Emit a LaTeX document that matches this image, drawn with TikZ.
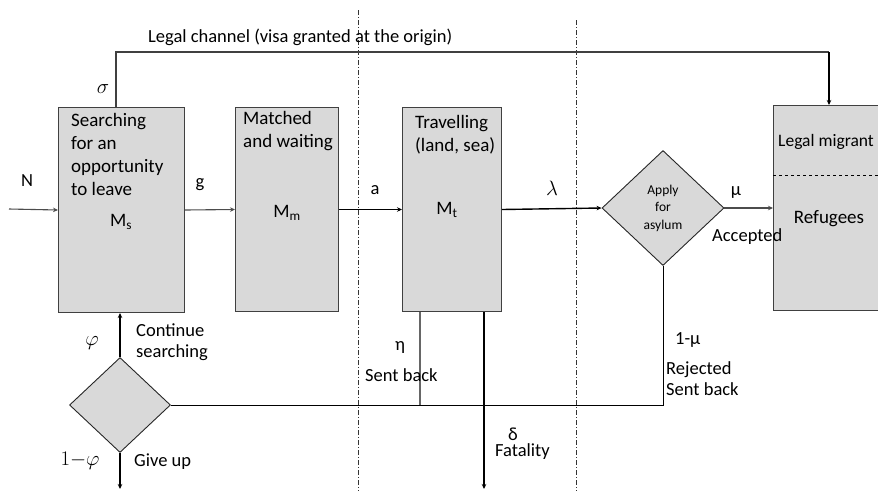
\documentclass[tikz,border=0pt]{standalone}
\usepackage{fontspec}
\setmainfont{Carlito}
\usetikzlibrary{shapes.geometric,arrows.meta,positioning}
\tikzset{>={Stealth[length=5pt,width=4.5pt]}}

\begin{document}
\begin{tikzpicture}[x=1pt,y=-1pt,
                          stock/.style={draw=black!75, line width=1pt, fill=black!15, inner sep=0pt, anchor=north west},
                          choice/.style={diamond, draw=black!85, line width=0.9pt, fill=black!15, inner sep=0pt},
                          flow/.style={black!70, line width=1.1pt, ->},
                          bigflow/.style={black, line width=1.4pt, ->},
                          backline/.style={black!60, line width=1.1pt},
                          border/.style={black!80, line width=0.8pt, dash pattern=on 5pt off 2pt on 1pt off 2pt},
                          lbl/.style={font=\fontsize{18.5}{21}\selectfont, inner sep=0pt},
                          mathlbl/.style={font=\fontsize{21}{24}\selectfont, inner sep=0pt},
                          boxtxt/.style={font=\fontsize{19}{23}\selectfont, align=left, inner sep=0pt, anchor=north west},
                         ]

\clip (0,0) rectangle (878,491);
\useasboundingbox (0,0) rectangle (878,491);

% borders between the stages
\draw[border] (358,10) -- (358,491);
\draw[border] (576,20) -- (576,491);

% stocks
\node[stock, minimum width=126pt, minimum height=205pt] (Ms) at (58,107) {};
\node[stock, minimum width=103pt, minimum height=204pt] (Mm) at (235,107) {};
\node[stock, minimum width=99pt, minimum height=204pt] (Mt) at (402,107) {};
\node[stock, minimum width=130pt, minimum height=205pt] (dest) at (773,105) {};
\draw[black, line width=0.8pt, dashed] (dest.west |- 0,175) -- (dest.east |- 0,175);

\node[choice, minimum width=122pt, minimum height=115pt, align=center,
      font=\fontsize{13.5}{17.5}\selectfont] (apply) at (663,208) {Apply\\for\\asylum};
\node[choice, minimum width=101pt, minimum height=95pt] (giveup) at (120,405) {};

% texts in the stocks
\node[boxtxt] (Mstxt) at (71,113) {Searching\\for an\\opportunity\\to leave};
\node[boxtxt] (Mmtxt) at (243,111) {Matched\\and waiting};
\node[boxtxt] (Mttxt) at (415,115) {Travelling\\(land, sea)};
\node[lbl, font=\fontsize{19}{23}\selectfont] (Mslbl) at (121,222) {M\textsubscript{s}};
\node[lbl, font=\fontsize{19}{23}\selectfont] (Mmlbl) at (287,213) {M\textsubscript{m}};
\node[lbl, font=\fontsize{19}{23}\selectfont] (Mtlbl) at (447,210) {M\textsubscript{t}};
\node[lbl, anchor=west, font=\fontsize{17.5}{21}\selectfont] (legtxt) at (778,142) {Legal migrant};
\node[lbl, font=\fontsize{19}{23}\selectfont] (reftxt) at (829,219) {Refugees};

% flows
\coordinate (Nin) at (9,209);
\coordinate (giveout) at (120,489);
\coordinate (fatal) at (484,489);
\coordinate (sentback) at (420,405);

\draw[backline, black!75] (Ms.north -| 116,0) -- (116,52) -- (829,52);
\draw[->, black, line width=1.3pt] (829,52) -- (dest.north -| 829,0);
\draw[flow] (Nin) -- (Ms.west);
\draw[flow] (Ms.east) -- (Mm.west);
\draw[bigflow] (Mm.east) -- (Mt.west);
\draw[bigflow] (Mt.east) -- (apply.west);
\draw[flow] (apply.east) -- (dest.west |- apply.east);
\draw[->, black, line width=1.2pt] (giveup.north) -- (giveup.north |- Ms.south);
\draw[->, black, line width=1.2pt] (giveup.south) -- (giveout);
\draw[black, line width=0.9pt] (giveup.east) -- (apply.south |- giveup.east) -- (apply.south);
\draw[backline] (sentback |- Mt.south) -- (sentback);
\draw[bigflow] (fatal |- Mt.south) -- (fatal);

% labels
\node[lbl, anchor=west] (legal) at (148,37) {Legal channel (visa granted at the origin)};
\node[mathlbl] (sigma) at (103,89) {$\sigma$};
\node[lbl] (Nlbl) at (27,181) {N};
\node[lbl] (glbl) at (200,185) {g};
\node[lbl] (albl) at (375,190) {a};
\node[mathlbl] (lambda) at (552,188) {$\lambda$};
\node[lbl] (mu) at (736,193) {μ};
\node[lbl, anchor=west] (acc) at (712,237) {Accepted};
\node[mathlbl] (phi) at (92,343) {$\varphi$};
\node[lbl, anchor=west, align=left] (cont) at (136,342) {Continue\\searching};
\node[mathlbl] (phineg) at (80,461) {$1{-}\varphi$};
\node[lbl, anchor=west] (gu) at (134,462) {Give up};
\node[lbl] (eta) at (400,347) {η};
\node[lbl, anchor=west] (sb1) at (365,375) {Sent back};
\node[lbl, anchor=west] (muneg) at (675,340) {1-μ};
\node[lbl, anchor=west, align=left] (rej) at (666,379) {Rejected\\Sent back};
\node[lbl] (delta) at (513,434) {δ};
\node[lbl, anchor=west] (fat) at (495,452) {Fatality};

\end{tikzpicture}
\end{document}
